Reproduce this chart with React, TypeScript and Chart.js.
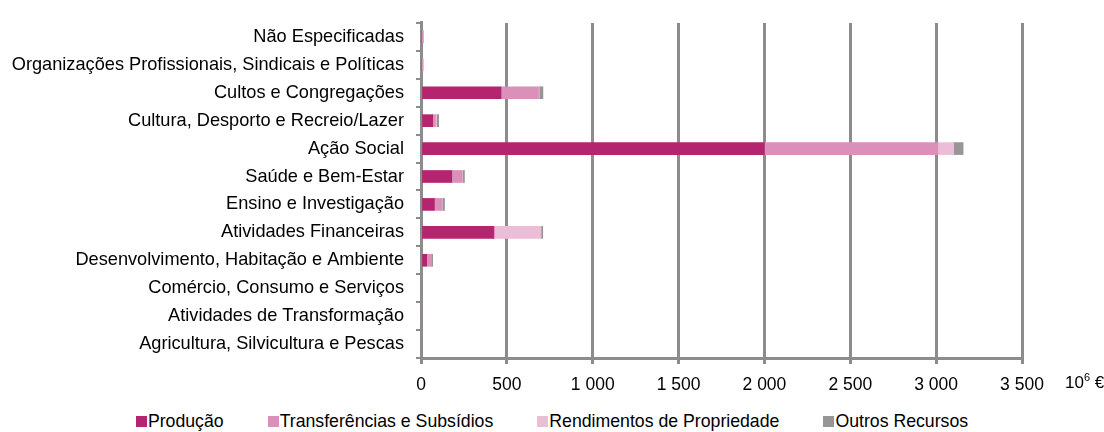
import React, { useEffect, useRef } from "react";
import { Chart, registerables } from "chart.js";

Chart.register(...registerables);

const categories = [
  "Não Especificadas",
  "Organizações Profissionais, Sindicais e Políticas",
  "Cultos e Congregações",
  "Cultura, Desporto e Recreio/Lazer",
  "Ação Social",
  "Saúde e Bem-Estar",
  "Ensino e Investigação",
  "Atividades Financeiras",
  "Desenvolvimento, Habitação e Ambiente",
  "Comércio, Consumo e Serviços",
  "Atividades de Transformação",
  "Agricultura, Silvicultura e Pescas",
];

const producao = [0, 0, 466, 68, 2000, 179, 78, 423, 33, 0, 0, 0];
const transferencias = [12, 10, 218, 16, 1010, 60, 44, 6, 25, 0, 0, 0];
const rendimentos = [2, 2, 5, 7, 92, 3, 3, 270, 0, 0, 0, 0];
const outros = [0, 0, 21, 12, 55, 11, 12, 10, 10, 0, 0, 0];

const seriesNames = ["Produção", "Transferências e Subsídios", "Rendimentos de Propriedade", "Outros Recursos"];
const seriesColors = ["#B5256F", "#DA90B9", "#EBBDD6", "#969696"];

const xTicks = [0, 500, 1000, 1500, 2000, 2500, 3000, 3500];
const unitLabel = "10";
const unitSup = "6";
const unitSuffix = " €";

const FONT = "'Liberation Sans', Arial, sans-serif";
const GRID = "#8C8C8C";

function fmt(v: number) {
  return String(v).replace(/\B(?=(\d{3})+(?!\d))/g, " ");
}

export default function App() {
  const ref = useRef<HTMLCanvasElement | null>(null);

  useEffect(() => {
    document.body.style.margin = "0";
    const canvas = ref.current;
    if (!canvas) return;
    const unitPlugin = {
      id: "unitLabel",
      afterDraw(chart: any) {
        const { ctx, chartArea } = chart;
        ctx.save();
        ctx.fillStyle = "#000";
        ctx.textBaseline = "middle";
        ctx.textAlign = "left";
        const x = chartArea.right + 43;
        const y = chartArea.bottom + 25;
        ctx.font = `17px ${FONT}`;
        ctx.fillText(unitLabel, x, y);
        const w = ctx.measureText(unitLabel).width;
        ctx.font = `11px ${FONT}`;
        ctx.fillText(unitSup, x + w, y - 5);
        const w2 = ctx.measureText(unitSup).width;
        ctx.font = `17px ${FONT}`;
        ctx.fillText(unitSuffix, x + w + w2, y);
        ctx.restore();
      },
    };
    const data = [producao, transferencias, rendimentos, outros];
    const chart = new Chart(canvas, {
      type: "bar",
      data: {
        labels: categories,
        datasets: seriesNames.map((n, i) => ({
          label: n,
          data: data[i],
          backgroundColor: seriesColors[i],
          borderWidth: 0,
          barThickness: 12,
        })),
      },
      options: {
        indexAxis: "y",
        animation: false,
        responsive: false,
        maintainAspectRatio: false,
        layout: { padding: { top: 18, right: 82, bottom: 0, left: 0 } },
        plugins: { legend: { display: false }, tooltip: { enabled: false } },
        scales: {
          x: {
            stacked: true,
            min: 0,
            max: 3500,
            afterBuildTicks: (scale: any) => {
              scale.ticks = xTicks.map((v) => ({ value: v }));
            },
            ticks: {
              color: "#000",
              font: { family: FONT, size: 17.5 },
              padding: 11,
              maxRotation: 0,
              callback: (v: any) => fmt(Number(v)),
            },
            grid: { color: GRID, lineWidth: 3, tickLength: 6, drawTicks: true },
            border: { color: GRID, width: 3 },
          },
          y: {
            stacked: true,
            afterFit: (scale: any) => {
              scale.width = 421;
            },
            ticks: {
              color: "#000",
              font: { family: FONT, size: 18.2 },
              padding: 12,
              autoSkip: false,
            },
            grid: { offset: true, drawOnChartArea: false, color: GRID, lineWidth: 2, tickLength: 5 },
            border: { color: GRID, width: 3 },
          },
        },
      },
      plugins: [unitPlugin],
    });
    return () => chart.destroy();
  }, []);

  return (
    <div style={{ position: "relative", width: 1104, height: 432, fontFamily: FONT }}>
      <canvas ref={ref} width={1104} height={407} style={{ position: "absolute", left: 0, top: 0 }} />
      <div
        style={{
          position: "absolute",
          left: 0,
          top: 411,
          width: 1104,
          display: "flex",
          justifyContent: "center",
          gap: 44,
          fontSize: 17.7,
          lineHeight: "21px",
          color: "#000",
        }}
      >
        {seriesNames.map((n, i) => (
          <div key={n} style={{ display: "flex", alignItems: "center" }}>
            <span style={{ display: "inline-block", width: 11, height: 11, background: seriesColors[i], marginRight: 1 }} />
            <span>{n}</span>
          </div>
        ))}
      </div>
    </div>
  );
}
